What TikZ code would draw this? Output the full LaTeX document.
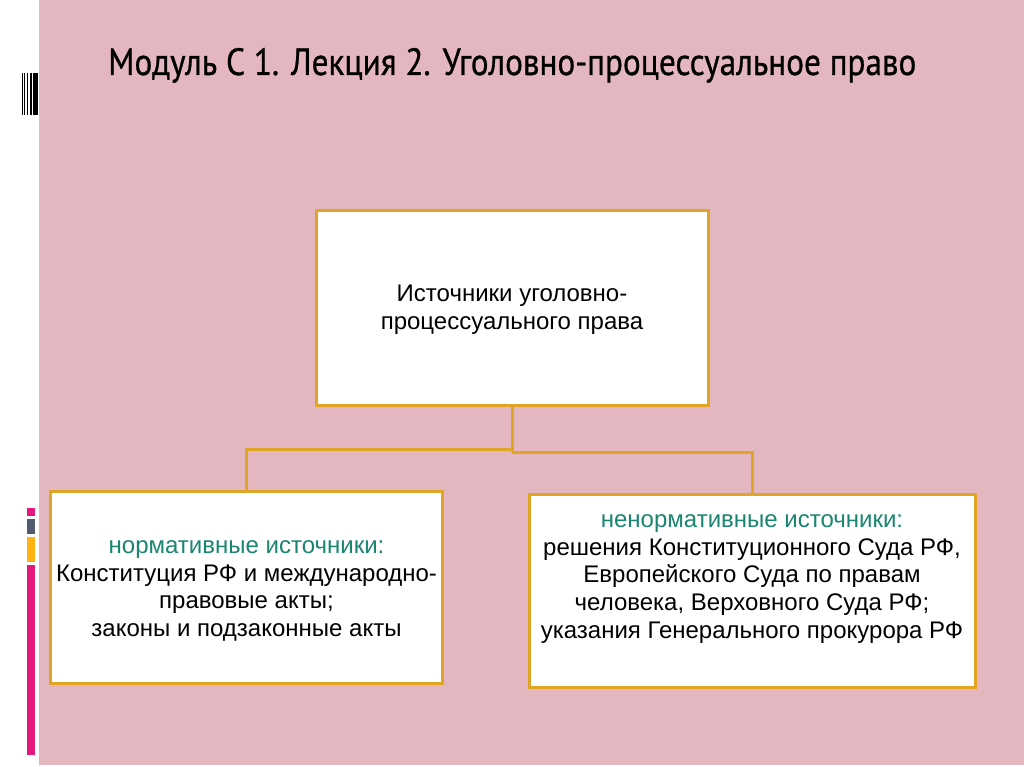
\documentclass[tikz,border=0pt]{standalone}
\usepackage{graphicx}
\usepackage{fontspec}
\setmainfont{Liberation Sans}
\newfontfamily\titlefont[FakeBold=0.8]{PT Sans}
\usetikzlibrary{calc}
\definecolor{bgpink}{RGB}{228,183,192}
\definecolor{boxgold}{RGB}{224,165,36}
\definecolor{tealtxt}{RGB}{26,134,114}
\definecolor{barpink}{RGB}{228,24,125}
\definecolor{bargray}{RGB}{80,92,110}
\definecolor{baryellow}{RGB}{252,180,20}
\tikzset{
  box/.style={draw=boxgold, line width=3pt, fill=white, inner sep=0pt},
  conn/.style={draw=boxgold, line width=3pt},
  txt/.style={align=center, inner sep=0pt, font=\fontsize{24pt}{27.6pt}\selectfont},
  hdr/.style={text=tealtxt}
}
\begin{document}
\begin{tikzpicture}[x=1pt,y=-1pt]
\useasboundingbox (0,0) rectangle (1024,767);
\fill[white] (0,0) rectangle (1024,767);
\fill[bgpink] (39,0) rectangle (1024,765);
% barcode
\fill[black] (22,73) rectangle (23.2,115);
\fill[black] (24.2,73) rectangle (25,115);
\fill[black] (26.7,73) rectangle (28.3,115);
\fill[black] (29.5,73) rectangle (32,115);
\fill[black] (33,73) rectangle (37.5,115);
% colour bars
\fill[barpink] (27,508) rectangle (35,516);
\fill[bargray] (27,519) rectangle (35,534);
\fill[baryellow] (27,537) rectangle (35,562);
\fill[barpink] (27,565) rectangle (35,755);
% title
\node[anchor=base west, inner sep=0pt] (title) at (108,75)
  {\titlefont\resizebox{808pt}{27pt}{Модуль С 1. Лекция 2. Уголовно-процессуальное право}};
% boxes
\node[box, minimum width=392pt, minimum height=194pt] (top) at (512,308) {};
\node[box, minimum width=392pt, minimum height=192pt] (left) at (246.5,587) {};
\node[box, minimum width=446pt, minimum height=193pt] (right) at (752,590.5) {};
% connectors
\coordinate (jl) at (512,449);
\coordinate (jr) at (512,452);
\draw[conn] (top.south) -- (jr);
\draw[conn] (jl) -| (left.north);
\draw[conn] (jr) -| (right.north);
% texts
\node[txt] (toptext) at (512,310) {Источники уголовно-\\процессуального права};
\node[txt] (lefttext) at (246.5,591) {\textcolor{tealtxt}{нормативные источники:}\\Конституция РФ и международно-\\правовые акты;\\законы и подзаконные акты};
\node[txt] (righttext) at (752,579) {\textcolor{tealtxt}{ненормативные источники:}\\решения Конституционного Суда РФ,\\Европейского Суда по правам\\человека, Верховного Суда РФ;\\указания Генерального прокурора РФ};
\end{tikzpicture}
\end{document}
